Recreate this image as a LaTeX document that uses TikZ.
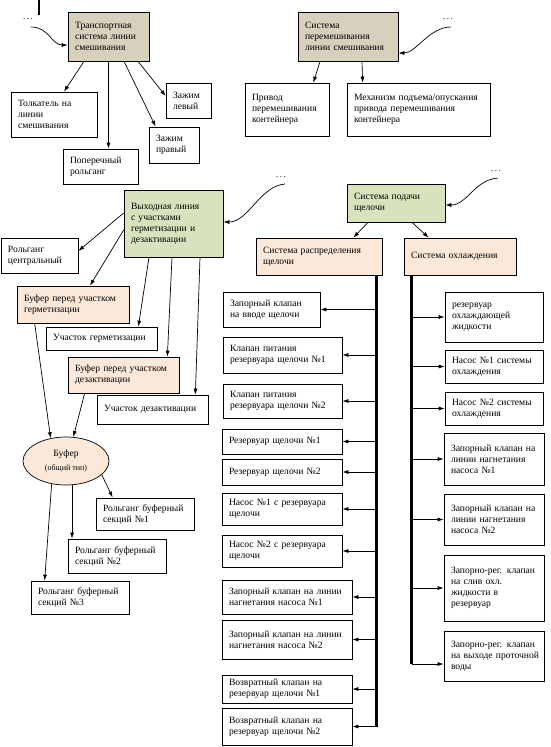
\documentclass[tikz,border=0pt]{standalone}
\usepackage{fontspec}
\setmainfont{Liberation Serif}
\usetikzlibrary{arrows.meta,shapes.geometric}
\definecolor{tanc}{RGB}{214,208,189}
\definecolor{grnc}{RGB}{214,227,188}
\definecolor{pchc}{RGB}{252,232,217}
\tikzset{
  box/.style={draw, line width=0.7pt, fill=white, align=left, inner xsep=7pt, inner ysep=2pt,
    font=\fontsize{9.6}{11}\selectfont},
  wh/.style 2 args={minimum width=#1pt, text width=#1pt-14pt, minimum height=#2pt},
  tanbox/.style={box, fill=tanc},
  grnbox/.style={box, fill=grnc},
  pchbox/.style={box, fill=pchc},
  arr/.style={-{Latex[length=6pt,width=4pt]}, line width=0.7pt},
  bar/.style={line width=3pt},
  dots/.style={font=\fontsize{9}{9}\selectfont, inner sep=0pt},
}
\begin{document}
\begin{tikzpicture}[x=1pt,y=-1pt]
\useasboundingbox (0,0) rectangle (551,747);
\draw[line width=2.5pt] (39,0) -- (39,15);

% transport system
\node[tanbox, wh={81}{49}] (TS) at (108.5,36.5) {Транспортная\\система линии\\смешивания};
\node[box, wh={86}{45}] (T1) at (54,114.5) {Толкатель на\\линии\\смешивания};
\node[box, wh={75}{35}] (T2) at (100.5,166.5) {Поперечный\\рольганг};
\node[box, wh={45}{35}] (T3) at (188.5,100.5) {Зажим\\левый};
\node[box, wh={50}{36}] (T4) at (174,145) {Зажим\\правый};
\draw[arr] ([xshift=-24.5pt]TS.south) -- ([xshift=10pt]T1.north);
\draw[arr] (TS.south) -- (TS.south |- T2.north);
\draw[arr] ([xshift=15.5pt]TS.south) -- ([xshift=7pt]T4.north west);
\draw[arr] ([xshift=29.5pt]TS.south) -- ([yshift=4.5pt]T3.west);

% mixing system
\node[tanbox, wh={100}{49}] (SP) at (348,36.5) {Система\\перемешивания\\линии смешивания};
\node[box, wh={84}{53}] (SP1) at (287,109.5) {Привод\\перемешивания\\контейнера};
\node[box, wh={143}{53}] (SP2) at (418.5,109.5) {Механизм подъема/опускания\\привода перемешивания\\контейнера};
\draw[arr] ([xshift=-28pt]SP.south) -- ([xshift=-16pt]SP1.north east);
\draw[arr] ([xshift=14pt]SP.south) -- ([xshift=16pt]SP2.north west);

% output line
\node[grnbox, wh={99}{67}] (VL) at (173.5,223.5) {Выходная линия\\с участками\\герметизации и\\дезактивации};
\node[box, wh={77}{35}] (V1) at (39.5,255.5) {Рольганг\\центральный};
\node[pchbox, wh={112}{37}] (V2) at (73,304.5) {Буфер перед участком\\герметизации};
\node[box, wh={111}{23}] (V3) at (101.5,338.5) {Участок герметизации};
\node[pchbox, wh={111}{36}] (V4) at (123.5,375) {Буфер перед участком\\дезактивации};
\node[box, wh={111}{29}] (V5) at (152.5,409.5) {Участок дезактивации};
\draw[arr] ([yshift=10.5pt]VL.west) -- ([yshift=4.5pt]V1.east);
\draw[arr] ([yshift=-6.5pt]VL.west) -- ([xshift=17pt]V2.north);
\draw[arr] ([xshift=-24.5pt]VL.south) -- ([xshift=-19pt]V3.north east);
\draw[arr] ([xshift=-1.5pt]VL.south) -- ([xshift=-12pt]V4.north east);
\draw[arr] ([xshift=26.5pt]VL.south) -- ([xshift=-13pt]V5.north east);

% buffer
\node[draw, ellipse, fill=pchc, line width=0.7pt, minimum width=86pt, minimum height=48pt,
  inner sep=0pt, align=center, font=\fontsize{9.6}{11}\selectfont] (BU) at (66,461)
  {Буфер\\[3pt]{\fontsize{8}{9}\selectfont(общий тип)}};
\node[box, wh={98}{32}] (R1) at (145,514) {Рольганг буферный\\секций №1};
\node[box, wh={98}{34}] (R2) at (117,556) {Рольганг буферный\\секций №2};
\node[box, wh={98}{33}] (R3) at (80,597.5) {Рольганг буферный\\секций №3};
\draw[arr] ([xshift=18pt]V2.south west) -- (BU.124);
\draw[arr] ([xshift=17pt]V4.south west) -- (BU.73);
\draw[arr] (BU.-21) -- ([xshift=17pt]R1.north west);
\draw[arr] (BU.-76) -- (BU.-76 |- R2.north);
\draw[arr] (BU.-122) -- ([xshift=14pt]R3.north west);

% alkali supply
\node[grnbox, wh={98}{38}] (SS) at (396,203) {Система подачи\\щелочи};
\node[pchbox, wh={126}{37}] (D) at (319,256.5) {Система распределения\\щелочи};
\node[pchbox, wh={112}{37}] (C) at (460,256.5) {Система охлаждения};
\draw[arr] ([xshift=-28pt]SS.south) -- ([xshift=-29pt]D.north east);
\draw[arr] ([xshift=16pt]SS.south) -- ([xshift=25pt]C.north west);

% distribution
\node[box, wh={97}{35}] (L1) at (271.5,309.5) {Запорный клапан\\на вводе щелочи};
\node[box, wh={119}{36}] (L2) at (282.5,355) {Клапан питания\\резервуара щелочи №1};
\node[box, wh={119}{34}] (L3) at (282.5,401) {Клапан питания\\резервуара щелочи №2};
\node[box, wh={120}{25}] (L4) at (282,441.5) {Резервуар щелочи №1};
\node[box, wh={120}{26}] (L5) at (282,472) {Резервуар щелочи №2};
\node[box, wh={120}{32}] (L6) at (282,509) {Насос №1 с резервуара\\щелочи};
\node[box, wh={120}{32}] (L7) at (282,551) {Насос №2 с резервуара\\щелочи};
\node[box, wh={130}{34}] (L8) at (287,597) {Запорный клапан на линии\\нагнетания насоса №1};
\node[box, wh={130}{39}] (L9) at (287,639.5) {Запорный клапан на линии\\нагнетания насоса №2};
\node[box, wh={130}{28}] (L10) at (287,689) {Возвратный клапан на\\резервуар щелочи №1};
\node[box, wh={130}{37}] (L11) at (287,726.5) {Возвратный клапан на\\резервуар щелочи №2};
\coordinate (DB) at ([xshift=-6pt]D.south east);
\draw[bar] (DB) -- (DB |- L11.east);
\foreach \n in {L1,L2,L3,L4,L5,L6,L7,L8,L9,L10,L11}
  \draw[arr] (DB |- \n.east) -- (\n.east);

% cooling
\node[box, wh={98}{50}] (K1) at (494,317) {резервуар\\охлаждающей\\жидкости};
\node[box, wh={98}{33}] (K2) at (494,366.5) {Насос №1 системы\\охлаждения};
\node[box, wh={98}{33}] (K3) at (494,408.5) {Насос №2 системы\\охлаждения};
\node[box, wh={100}{52}] (K4) at (494,459) {Запорный клапан на\\линии нагнетания\\насоса №1};
\node[box, wh={100}{51}] (K5) at (494,519.5) {Запорный клапан на\\линии нагнетания\\насоса №2};
\node[box, wh={100}{66}] (K6) at (494,588) {Запорно-рег. клапан\\на слив охл.\\жидкости в\\резервуар};
\node[box, wh={100}{50}] (K7) at (494,656) {Запорно-рег. клапан\\\mbox{на выходе проточной}\\воды};
\coordinate (CB) at ([xshift=8pt]C.south west);
\coordinate (CE) at ([yshift=-8pt]K7.west);
\draw[bar] (CB) -- (CB |- CE);
\foreach \n in {K1,K2,K3,K4,K5,K6}
  \draw[arr] (CB |- \n.west) -- (\n.west);
\draw[arr] (CB |- CE) -- (CE);

% links to other parts
\node[dots] (d1) at (28,19) {.\hspace{1.6pt}.\hspace{1.6pt}.};
\node[dots] (d2) at (448,19) {.\hspace{1.6pt}.\hspace{1.6pt}.};
\node[dots] (d3) at (281,177) {.\hspace{1.6pt}.\hspace{1.6pt}.};
\node[dots] (d4) at (496,171) {.\hspace{1.6pt}.\hspace{1.6pt}.};
\draw[arr] ([xshift=3pt,yshift=-8pt]d1.center) .. controls +(18,0) and +(-16,0) .. ([yshift=-8.5pt]TS.west);
\draw[arr] ([xshift=3pt,yshift=-8pt]d2.center) .. controls +(-22,0) and +(18,0) .. ([yshift=-16.5pt]SP.east);
\draw[arr] ([xshift=4pt,yshift=-7pt]d3.center) .. controls +(-25,2) and +(25,0) .. ([yshift=1.5pt]VL.east);
\draw[arr] ([xshift=2pt,yshift=-7pt]d4.center) .. controls +(-24,2) and +(22,0) .. ([yshift=-2pt]SS.east);
\end{tikzpicture}
\end{document}
